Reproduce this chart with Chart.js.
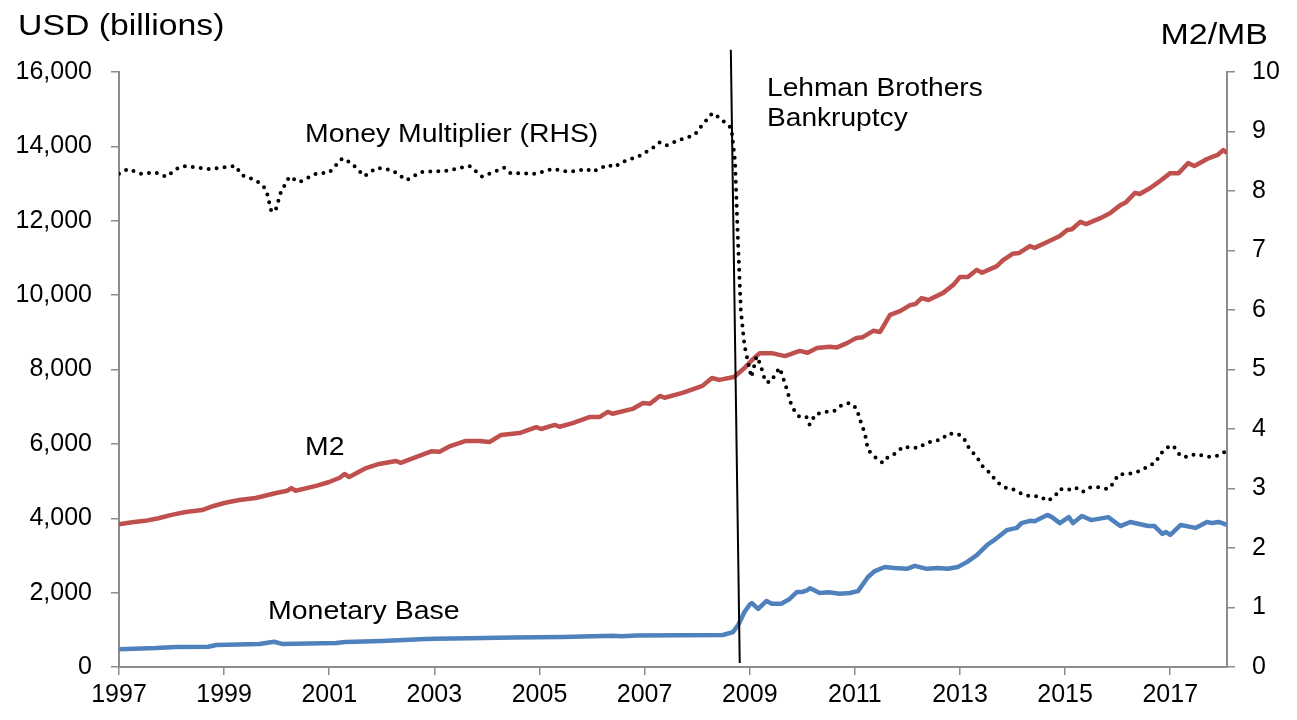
<!DOCTYPE html>
<html>
<head>
<meta charset="utf-8">
<script src="https://cdn.jsdelivr.net/npm/chart.js@4.4.1/dist/chart.umd.min.js"></script>
<style>
  html, body { margin: 0; padding: 0; background: #fff; }
  #wrap { width: 1297px; height: 720px; position: relative; }
</style>
</head>
<body>
<div id="wrap"><canvas id="grafico"></canvas></div>
<script>
// eixo x: anos (decimais)
const xTicks = [1997, 1999, 2001, 2003, 2005, 2007, 2009, 2011, 2013, 2015, 2017];

// M2 (USD bilhoes)
const m2Anos = [1997.0, 1997.25, 1997.5, 1997.75, 1998.0, 1998.27, 1998.58, 1998.8, 1999.0, 1999.29, 1999.6, 1999.99,
  2000.2, 2000.28, 2000.36, 2000.75, 2001.0, 2001.2, 2001.29, 2001.38, 2001.7, 2001.95, 2002.27, 2002.36, 2002.66, 2002.94,
  2003.1, 2003.3, 2003.6, 2003.86, 2004.05, 2004.27, 2004.62, 2004.94, 2005.03, 2005.29, 2005.38, 2005.63, 2005.95,
  2006.14, 2006.3, 2006.39, 2006.77, 2006.97, 2007.1, 2007.29, 2007.38, 2007.72, 2007.98, 2008.1, 2008.28, 2008.42,
  2008.7, 2008.9, 2009.04, 2009.19, 2009.42, 2009.67, 2009.95, 2010.1, 2010.28, 2010.52, 2010.65, 2010.85, 2011.03,
  2011.15, 2011.35, 2011.48, 2011.67, 2011.86, 2012.05, 2012.15, 2012.27, 2012.4, 2012.68, 2012.87, 2013.0, 2013.15,
  2013.32, 2013.42, 2013.7, 2013.82, 2014.0, 2014.12, 2014.33, 2014.42, 2014.66, 2014.9, 2015.04, 2015.13, 2015.29,
  2015.4, 2015.67, 2015.86, 2016.05, 2016.16, 2016.33, 2016.42, 2016.62, 2016.75, 2017.0, 2017.16, 2017.34, 2017.46,
  2017.7, 2017.9, 2018.01, 2018.08];
const m2Valores = [3840, 3890, 3930, 4000, 4090, 4170, 4220, 4330, 4410, 4490, 4545, 4680,
  4740, 4810, 4740, 4870, 4975, 5090, 5190, 5110, 5350, 5460, 5540, 5490, 5650, 5800,
  5790, 5940, 6080, 6080, 6050, 6240, 6290, 6450, 6400, 6510, 6460, 6560, 6720,
  6720, 6860, 6810, 6940, 7100, 7080, 7290, 7240, 7370, 7500, 7560, 7770, 7720,
  7800, 8040, 8250, 8440, 8440, 8360, 8500, 8450, 8580, 8610, 8590, 8710, 8850,
  8870, 9040, 9010, 9470, 9570, 9730, 9760, 9920, 9870, 10060, 10270, 10490, 10490,
  10680, 10600, 10780, 10940, 11110, 11130, 11320, 11270, 11430, 11590, 11750, 11770, 11970,
  11910, 12070, 12210, 12420, 12500, 12750, 12720, 12880, 13010, 13280, 13280, 13550, 13470,
  13660, 13770, 13900, 13820];

// Base monetaria (USD bilhoes)
const mbAnos = [1997.0, 1997.7, 1998.08, 1998.7, 1998.85, 1999.67, 1999.95, 2000.1, 2001.13, 2001.3, 2002.0, 2002.84,
  2003.0, 2003.67, 2004.5, 2005.44, 2006.4, 2006.55, 2006.85, 2008.49, 2008.68, 2008.78, 2008.9, 2009.0, 2009.04,
  2009.16, 2009.32, 2009.42, 2009.6, 2009.76, 2009.9, 2010.0, 2010.1, 2010.15, 2010.33, 2010.5, 2010.71, 2010.9,
  2011.06, 2011.25, 2011.38, 2011.57, 2011.75, 2011.99, 2012.14, 2012.37, 2012.58, 2012.77, 2012.96, 2013.13, 2013.32,
  2013.53, 2013.63, 2013.89, 2014.08, 2014.17, 2014.33, 2014.42, 2014.66, 2014.75, 2014.9, 2015.07, 2015.15, 2015.32,
  2015.5, 2015.82, 2016.05, 2016.24, 2016.58, 2016.7, 2016.85, 2016.92, 2017.0, 2017.2, 2017.48, 2017.7, 2017.8,
  2017.92, 2018.08];
const mbValores = [480, 510, 540, 545, 590, 620, 680, 620, 645, 670, 700, 750,
  760, 770, 790, 810, 840, 825, 845, 860, 940, 1130, 1480, 1680, 1720,
  1560, 1775, 1700, 1700, 1830, 2020, 2020, 2070, 2120, 1990, 2010, 1970, 1990,
  2040, 2420, 2580, 2690, 2660, 2640, 2720, 2640, 2660, 2640, 2690, 2820, 3010,
  3300, 3390, 3680, 3740, 3870, 3930, 3920, 4090, 4030, 3870, 4030, 3870, 4060,
  3950, 4030, 3790, 3900, 3790, 3790, 3580, 3630, 3550, 3820, 3740, 3900, 3870,
  3900, 3820];

// Multiplicador monetario M2/MB (eixo direito)
const mmAnos = [1997.0, 1997.17, 1997.42, 1997.7, 1997.9, 1998.14, 1998.27, 1998.71, 1999.22, 1999.33, 1999.6, 1999.75,
  1999.82, 1999.9, 1999.98, 2000.08, 2000.24, 2000.43, 2000.75, 2001.0, 2001.25, 2001.42, 2001.67, 2001.9, 2002.2,
  2002.47, 2002.75, 2003.23, 2003.67, 2003.91, 2004.33, 2004.45, 2004.94, 2005.25, 2005.57, 2005.9, 2006.0, 2006.3,
  2006.42, 2006.59, 2006.9, 2007.15, 2007.29, 2007.42, 2007.67, 2007.95, 2008.08, 2008.29, 2008.43, 2008.58, 2008.65,
  2008.72, 2008.77, 2008.83, 2008.9, 2008.96, 2009.03, 2009.13, 2009.2, 2009.3, 2009.4, 2009.5, 2009.57, 2009.68,
  2009.78, 2009.86, 2009.95, 2010.08, 2010.14, 2010.25, 2010.46, 2010.6, 2010.75, 2010.9, 2011.03, 2011.13, 2011.19,
  2011.25, 2011.38, 2011.53, 2011.63, 2011.8, 2011.91, 2012.2, 2012.35, 2012.49, 2012.65, 2012.77, 2012.94, 2013.06,
  2013.15, 2013.34, 2013.44, 2013.57, 2013.7, 2013.89, 2014.0, 2014.18, 2014.33, 2014.52, 2014.66, 2014.8, 2014.9,
  2015.04, 2015.19, 2015.33, 2015.48, 2015.65, 2015.82, 2015.92, 2016.01, 2016.3, 2016.47, 2016.6, 2016.72, 2016.81,
  2017.0, 2017.1, 2017.19, 2017.33, 2017.48, 2017.63, 2017.76, 2017.9, 2018.03];
const mmValores = [8.29, 8.37, 8.29, 8.31, 8.24, 8.40, 8.42, 8.37, 8.42, 8.27, 8.18, 8.08,
  7.95, 7.65, 7.68, 7.98, 8.24, 8.15, 8.29, 8.31, 8.55, 8.47, 8.25, 8.39, 8.35,
  8.18, 8.32, 8.34, 8.42, 8.24, 8.39, 8.30, 8.29, 8.37, 8.32, 8.37, 8.32, 8.44,
  8.40, 8.49, 8.59, 8.72, 8.82, 8.77, 8.86, 8.94, 9.09, 9.31, 9.23, 9.11, 9.06,
  8.5, 7.3, 6.0, 5.4, 5.16, 4.87, 5.22, 5.09, 4.79, 4.79, 4.94, 5.03, 4.74,
  4.44, 4.29, 4.20, 4.20, 4.07, 4.25, 4.29, 4.30, 4.40, 4.44, 4.35, 4.07, 3.93,
  3.65, 3.53, 3.43, 3.53, 3.60, 3.70, 3.68, 3.76, 3.80, 3.82, 3.92, 3.92, 3.87,
  3.71, 3.50, 3.36, 3.26, 3.11, 3.00, 2.99, 2.91, 2.87, 2.87, 2.79, 2.86, 2.99,
  2.97, 3.02, 2.94, 3.02, 3.02, 2.99, 3.09, 3.23, 3.26, 3.31, 3.39, 3.43, 3.58,
  3.73, 3.68, 3.55, 3.53, 3.58, 3.55, 3.53, 3.55, 3.61];

// Linha da falencia do Lehman Brothers (ligeiramente inclinada, como no original)
const lehmanAnos = [2008.64, 2008.81];
const lehmanValores = [16600, 110];

const fonte = '"Liberation Sans", Arial, sans-serif';
const cinzaEixo = '#8c8c8c';

function pontos(anos, valores) {
  return anos.map((a, i) => ({ x: a, y: valores[i] }));
}

// texto um pouco esticado na horizontal, como no original
function textoLargo(c, txt, x, y, esticar, alinhar) {
  c.save();
  c.translate(x, y);
  c.scale(esticar, 1);
  c.textAlign = alinhar || 'left';
  c.fillText(txt, 0, 0);
  c.restore();
}

// textos fixos do grafico
const textos = {
  id: 'textos',
  afterDraw(chart) {
    const c = chart.ctx;
    c.save();
    c.fillStyle = '#000';
    c.textBaseline = 'alphabetic';
    c.font = '29px ' + fonte;
    textoLargo(c, 'USD (billions)', 18, 35, 1.165);
    textoLargo(c, 'M2/MB', 1268, 44, 1.17, 'right');
    c.font = '25px ' + fonte;
    textoLargo(c, 'Money Multiplier (RHS)', 305, 142, 1.135);
    textoLargo(c, 'M2', 305, 455, 1.135);
    textoLargo(c, 'Monetary Base', 268, 619, 1.14);
    textoLargo(c, 'Lehman Brothers', 767, 96, 1.125);
    textoLargo(c, 'Bankruptcy', 767, 126, 1.125);
    c.restore();
  }
};

const ctx = document.getElementById('grafico').getContext('2d');

const grafico = new Chart(ctx, {
  type: 'line',
  data: {
    datasets: [
      {
        label: 'Lehman',
        data: pontos(lehmanAnos, lehmanValores),
        yAxisID: 'y',
        borderColor: '#000',
        borderWidth: 2,
        pointRadius: 0,
        clip: false,
        order: 0
      },
      {
        label: 'Money Multiplier (RHS)',
        data: pontos(mmAnos, mmValores),
        yAxisID: 'y1',
        borderColor: '#000',
        borderWidth: 4,
        borderDash: [0, 8],
        borderCapStyle: 'round',
        pointRadius: 0,
        order: 1
      },
      {
        label: 'M2',
        data: pontos(m2Anos, m2Valores),
        yAxisID: 'y',
        borderColor: '#C0504D',
        borderWidth: 4.5,
        pointRadius: 0,
        order: 2
      },
      {
        label: 'Monetary Base',
        data: pontos(mbAnos, mbValores),
        yAxisID: 'y',
        borderColor: '#4F81BD',
        borderWidth: 4.5,
        pointRadius: 0,
        order: 3
      }
    ]
  },
  options: {
    responsive: true,
    maintainAspectRatio: false,
    animation: false,
    events: [],
    layout: { padding: { top: 72, left: 0, right: 0, bottom: 0 } },
    elements: { line: { tension: 0, borderJoinStyle: 'round' } },
    plugins: { legend: { display: false }, tooltip: { enabled: false } },
    scales: {
      x: {
        type: 'linear',
        min: 1997,
        max: 2018.08,
        afterBuildTicks: s => { s.ticks = xTicks.map(v => ({ value: v })); },
        afterFit: s => { s.height = 53; },
        border: { color: cinzaEixo, width: 2 },
        grid: { drawOnChartArea: false, color: cinzaEixo, lineWidth: 1.5, tickLength: 8 },
        ticks: {
          color: '#000',
          font: { family: fonte, size: 25 },
          padding: 5,
          maxRotation: 0,
          callback: v => String(v)
        }
      },
      y: {
        position: 'left',
        min: 0,
        max: 16000,
        afterFit: s => { s.width = 119; },
        border: { color: cinzaEixo, width: 2 },
        grid: { drawOnChartArea: false, color: cinzaEixo, lineWidth: 1.5, tickLength: 8 },
        ticks: {
          stepSize: 2000,
          color: '#000',
          font: { family: fonte, size: 25 },
          padding: 19
        }
      },
      y1: {
        position: 'right',
        min: 0,
        max: 10,
        afterFit: s => { s.width = 70; },
        border: { color: cinzaEixo, width: 2 },
        grid: { drawOnChartArea: false, color: cinzaEixo, lineWidth: 1.5, tickLength: 8 },
        ticks: {
          stepSize: 1,
          color: '#000',
          font: { family: fonte, size: 25 },
          padding: 17
        }
      }
    }
  },
  plugins: [textos]
});
</script>
</body>
</html>
